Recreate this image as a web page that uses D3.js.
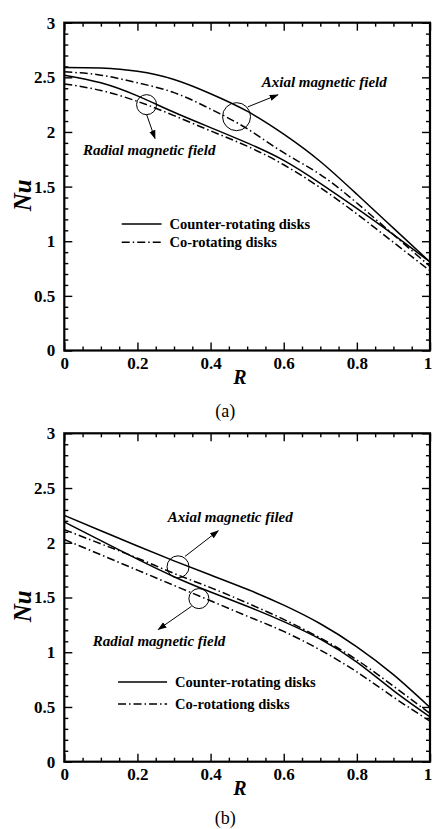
<!DOCTYPE html>
<html>
<head>
<meta charset="utf-8">
<script src="https://cdn.jsdelivr.net/npm/d3@7"></script>
<style>
  html, body { margin: 0; padding: 0; background: #fff; }
  svg { display: block; }
  text { font-family: "Liberation Serif", "Times New Roman", serif; }
</style>
</head>
<body>
<svg id="chart" width="433" height="829"></svg>
<script>
// ---------- data ----------
const R = [0, 0.1, 0.2, 0.3, 0.4, 0.5, 0.6, 0.7, 0.8, 0.9, 1.0];

// panel (a)
const aAxialCounter  = [2.59, 2.585, 2.555, 2.48, 2.35, 2.19, 1.98, 1.73, 1.43, 1.12, 0.81];
const aAxialCo       = [2.55, 2.52, 2.45, 2.36, 2.21, 2.03, 1.81, 1.61, 1.35, 1.06, 0.77];
const aRadialCounter = [2.52, 2.45, 2.33, 2.18, 2.04, 1.90, 1.74, 1.53, 1.30, 1.06, 0.81];
const aRadialCo      = [2.44, 2.38, 2.28, 2.15, 2.01, 1.87, 1.70, 1.49, 1.25, 0.99, 0.73];

// panel (b)
const bAxialCounter  = [2.25, 2.11, 1.97, 1.835, 1.705, 1.575, 1.43, 1.26, 1.05, 0.795, 0.495];
const bAxialCo       = [2.12, 1.99, 1.86, 1.72, 1.59, 1.45, 1.30, 1.13, 0.93, 0.69, 0.44];
const bRadialCounter = [2.19, 2.02, 1.85, 1.69, 1.55, 1.42, 1.28, 1.12, 0.91, 0.65, 0.41];
const bRadialCo      = [2.03, 1.89, 1.75, 1.61, 1.47, 1.33, 1.19, 1.02, 0.82, 0.59, 0.37];

const xTicks = [0, 0.2, 0.4, 0.6, 0.8, 1];
const xTickLabels = ["0", "0.2", "0.4", "0.6", "0.8", "1"];
const yTicks = [0, 0.5, 1, 1.5, 2, 2.5, 3];
const yTickLabels = ["0", "0.5", "1", "1.5", "2", "2.5", "3"];

const legendLabelsA = ["Counter-rotating disks", "Co-rotating disks"];
const legendLabelsB = ["Counter-rotating disks", "Co-rotationg disks"];
const captions = ["(a)", "(b)"];
const axialTextA = "Axial magnetic field";
const radialTextA = "Radial magnetic field";
const axialTextB = "Axial magnetic filed";
const radialTextB = "Radial magnetic field";

// ---------- drawing ----------
const svg = d3.select("#chart");
const DASHDOT = "8,3,1.5,3";

// arrow marker
svg.append("defs").append("marker")
  .attr("id", "arrow").attr("viewBox", "0 0 10 10")
  .attr("refX", 9).attr("refY", 5)
  .attr("markerWidth", 9).attr("markerHeight", 9)
  .attr("markerUnits", "userSpaceOnUse")
  .attr("orient", "auto")
  .append("path").attr("d", "M0,1.5 L10,5 L0,8.5 Z").attr("fill", "#000");

function panel(cfg) {
  const x = d3.scaleLinear().domain([0, 1]).range([cfg.left, cfg.right]);
  const y = d3.scaleLinear().domain([0, 3]).range([cfg.bottom, cfg.top]);
  const g = svg.append("g");

  const minorX = d3.range(0, 1.0001, 0.05).map(v => +v.toFixed(2)).filter(v => !xTicks.includes(v));
  const minorY = d3.range(0, 3.0001, 0.1).map(v => +v.toFixed(1)).filter(v => !yTicks.includes(v));

  function styleAxis(sel) {
    sel.select(".domain").remove();
    sel.selectAll(".tick line").attr("stroke", "#000").attr("stroke-width", 1.4);
    sel.selectAll("text")
      .attr("font-family", "Liberation Serif, serif")
      .attr("font-weight", "bold")
      .attr("font-size", 17)
      .attr("fill", "#000");
  }

  // bottom
  const bx = g.append("g").attr("transform", `translate(0,${cfg.bottom})`)
    .call(d3.axisBottom(x).tickValues(xTicks).tickSizeInner(-8).tickSizeOuter(0).tickPadding(6)
      .tickFormat((d, i) => xTickLabels[i]))
    .call(styleAxis);
  bx.selectAll(".tick text").filter(d => d === 1).attr("dx", -2.5);
  g.append("g").attr("transform", `translate(0,${cfg.bottom})`)
    .call(d3.axisBottom(x).tickValues(minorX).tickSizeInner(-4).tickSizeOuter(0).tickFormat(""))
    .call(styleAxis);
  // top
  g.append("g").attr("transform", `translate(0,${cfg.top})`)
    .call(d3.axisTop(x).tickValues(xTicks).tickSizeInner(-8).tickSizeOuter(0).tickFormat(""))
    .call(styleAxis);
  g.append("g").attr("transform", `translate(0,${cfg.top})`)
    .call(d3.axisTop(x).tickValues(minorX).tickSizeInner(-4).tickSizeOuter(0).tickFormat(""))
    .call(styleAxis);
  // left
  g.append("g").attr("transform", `translate(${cfg.left},0)`)
    .call(d3.axisLeft(y).tickValues(yTicks).tickSizeInner(-8).tickSizeOuter(0).tickPadding(9)
      .tickFormat((d, i) => yTickLabels[i]))
    .call(styleAxis);
  g.append("g").attr("transform", `translate(${cfg.left},0)`)
    .call(d3.axisLeft(y).tickValues(minorY).tickSizeInner(-4).tickSizeOuter(0).tickFormat(""))
    .call(styleAxis);
  // right
  g.append("g").attr("transform", `translate(${cfg.right},0)`)
    .call(d3.axisRight(y).tickValues(yTicks).tickSizeInner(-8).tickSizeOuter(0).tickFormat(""))
    .call(styleAxis);
  g.append("g").attr("transform", `translate(${cfg.right},0)`)
    .call(d3.axisRight(y).tickValues(minorY).tickSizeInner(-4).tickSizeOuter(0).tickFormat(""))
    .call(styleAxis);

  // curves
  const line = d3.line().x((d, i) => x(R[i])).y(d => y(d)).curve(d3.curveNatural);
  const clipId = "clip" + cfg.id;
  g.append("clipPath").attr("id", clipId).append("rect")
    .attr("x", cfg.left).attr("y", cfg.top).attr("width", cfg.right - cfg.left).attr("height", cfg.bottom - cfg.top);
  const cg = g.append("g").attr("clip-path", `url(#${clipId})`);
  cfg.series.forEach(s => {
    cg.append("path").datum(s.values)
      .attr("d", line)
      .attr("fill", "none")
      .attr("stroke", "#000")
      .attr("stroke-width", 1.5)
      .attr("stroke-dasharray", s.dash ? DASHDOT : null);
  });

  // frame
  g.append("rect")
    .attr("x", cfg.left).attr("y", cfg.top)
    .attr("width", cfg.right - cfg.left).attr("height", cfg.bottom - cfg.top)
    .attr("fill", "none").attr("stroke", "#000").attr("stroke-width", 2.2);

  // axis labels
  g.append("text")
    .attr("transform", `translate(${cfg.nuX},${y(1.42)}) rotate(-90)`)
    .attr("text-anchor", "middle").attr("dominant-baseline", "central")
    .attr("font-weight", "bold").attr("font-style", "italic").attr("font-size", 25)
    .text("Nu");
  g.append("text")
    .attr("x", x(0.48)).attr("y", cfg.bottom + 33)
    .attr("text-anchor", "middle")
    .attr("font-weight", "bold").attr("font-style", "italic").attr("font-size", 20)
    .text("R");
  g.append("text")
    .attr("x", x(0.44)).attr("y", cfg.bottom + cfg.capDy)
    .attr("text-anchor", "middle")
    .attr("font-size", 18)
    .text(cfg.caption);

  // legend
  cfg.legend.forEach((lab, i) => {
    const ly = y(cfg.legendY[i]);
    g.append("line")
      .attr("x1", x(cfg.legendX[0])).attr("x2", x(cfg.legendX[1]))
      .attr("y1", ly).attr("y2", ly)
      .attr("stroke", "#000").attr("stroke-width", 1.5)
      .attr("stroke-dasharray", i === 1 ? DASHDOT : null);
    g.append("text")
      .attr("x", x(cfg.legendX[1]) + 8).attr("y", ly)
      .attr("dominant-baseline", "central")
      .attr("font-weight", "bold").attr("font-size", 14.5)
      .text(lab);
  });

  // annotations: circles, arrows, texts
  cfg.circles.forEach(c => {
    g.append("circle")
      .attr("cx", x(c.cx)).attr("cy", y(c.cy)).attr("r", c.r)
      .attr("fill", "none").attr("stroke", "#000").attr("stroke-width", 1);
  });
  cfg.arrows.forEach(a => {
    g.append("line")
      .attr("x1", x(a[0])).attr("y1", y(a[1]))
      .attr("x2", x(a[2])).attr("y2", y(a[3]))
      .attr("stroke", "#000").attr("stroke-width", 1)
      .attr("marker-end", "url(#arrow)");
  });
  cfg.notes.forEach(n => {
    g.append("text")
      .attr("x", x(n.x)).attr("y", y(n.y))
      .attr("dominant-baseline", "central")
      .attr("font-weight", "bold").attr("font-style", "italic").attr("font-size", 15)
      .text(n.text);
  });
}

panel({
  id: "a", left: 64.3, right: 430, top: 22.7, bottom: 350.5, nuX: 22, capDy: 66,
  caption: captions[0],
  series: [
    { values: aAxialCounter, dash: false },
    { values: aAxialCo, dash: true },
    { values: aRadialCounter, dash: false },
    { values: aRadialCo, dash: true }
  ],
  legend: legendLabelsA, legendX: [0.157, 0.266], legendY: [1.157, 0.99],
  circles: [{ cx: 0.225, cy: 2.25, r: 10 }, { cx: 0.471, cy: 2.14, r: 14 }],
  arrows: [[0.225, 2.16, 0.248, 1.94], [0.502, 2.23, 0.584, 2.34]],
  notes: [{ x: 0.54, y: 2.46, text: axialTextA }, { x: 0.051, y: 1.835, text: radialTextA }]
});

panel({
  id: "b", left: 64.3, right: 430, top: 433.3, bottom: 761.7, nuX: 22, capDy: 62,
  caption: captions[1],
  series: [
    { values: bAxialCounter, dash: false },
    { values: bAxialCo, dash: true },
    { values: bRadialCounter, dash: false },
    { values: bRadialCo, dash: true }
  ],
  legend: legendLabelsB, legendX: [0.147, 0.281], legendY: [0.727, 0.527],
  circles: [{ cx: 0.311, cy: 1.78, r: 11 }, { cx: 0.368, cy: 1.49, r: 10 }],
  arrows: [[0.330, 1.875, 0.421, 2.11], [0.348, 1.42, 0.257, 1.208]],
  notes: [{ x: 0.283, y: 2.232, text: axialTextB }, { x: 0.078, y: 1.105, text: radialTextB }]
});
</script>
</body>
</html>
